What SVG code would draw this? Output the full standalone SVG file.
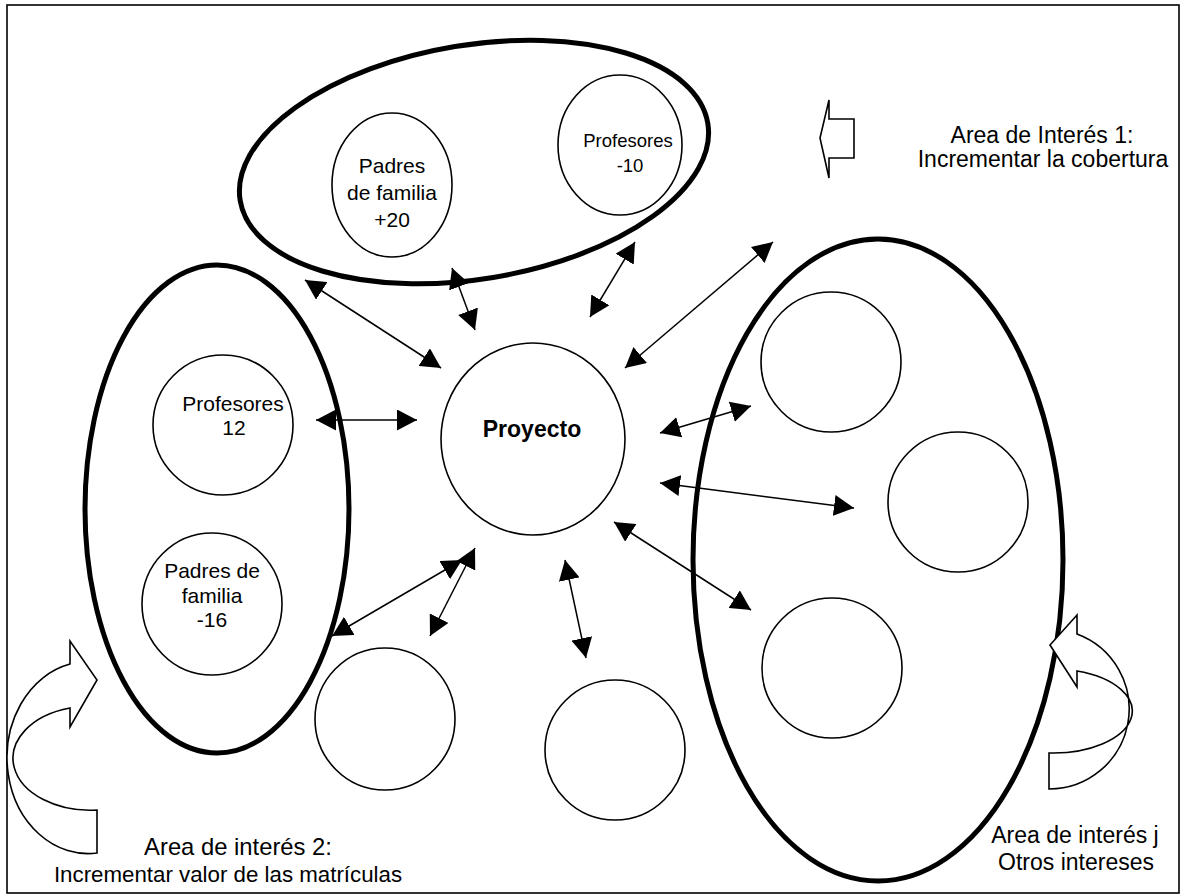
<svg xmlns="http://www.w3.org/2000/svg" width="1183" height="896" viewBox="0 0 1183 896">
<style>
  .area { fill: none; stroke: #000; stroke-width: 5; }
  .node { fill: #fff; stroke: #000; stroke-width: 1.6; }
  .conn { stroke: #000; stroke-width: 1.5; fill: none; marker-start: url(#head); marker-end: url(#head); }
  .block { fill: #fff; stroke: #000; stroke-width: 1.6; stroke-linejoin: miter; }
  text { font-family: "Liberation Sans", Arial, sans-serif; fill: #000; text-anchor: middle; }
  .t20 { font-size: 21px; }
  .t18 { font-size: 18.5px; }
  .lbl { font-size: 23px; }
  .bold { font-size: 23px; font-weight: bold; }
</style>
<defs>
  <marker id="head" viewBox="0 0 20 21" refX="20" refY="10.5" markerWidth="20" markerHeight="21" markerUnits="userSpaceOnUse" orient="auto-start-reverse">
    <path d="M0,0 L20,10.5 L0,21 Z" fill="#000"/>
  </marker>
</defs>
<rect x="0" y="0" width="1183" height="896" fill="#fff"/>
<rect id="border" x="7" y="5" width="1172" height="888" fill="none" stroke="#000" stroke-width="1.6"/>

<g id="area1">
  <ellipse class="area" cx="474" cy="162" rx="237" ry="117" transform="rotate(-9.4 474 162)"/>
</g>
<g id="area2">
  <ellipse class="area" cx="217" cy="509" rx="132" ry="244"/>
</g>
<g id="areaJ">
  <ellipse class="area" cx="878" cy="560" rx="185" ry="321"/>
</g>

<g id="padres20">
  <ellipse class="node" cx="392" cy="185" rx="60" ry="72"/>
  <text class="t20" x="392" y="173">Padres</text>
  <text class="t20" x="392" y="200">de familia</text>
  <text class="t20" x="392" y="227">+20</text>
</g>
<g id="profesores10">
  <ellipse class="node" cx="620" cy="145" rx="62" ry="70"/>
  <text class="t18" x="628" y="147">Profesores</text>
  <text class="t18" x="630" y="172">-10</text>
</g>
<g id="profesores12">
  <circle class="node" cx="223" cy="425" r="70"/>
  <text class="t20" x="233" y="411">Profesores</text>
  <text class="t20" x="234" y="435">12</text>
</g>
<g id="padres16">
  <ellipse class="node" cx="212" cy="604" rx="70" ry="71"/>
  <text class="t20" x="212" y="578">Padres de</text>
  <text class="t20" x="212" y="603">familia</text>
  <text class="t20" x="212" y="627">-16</text>
</g>
<g id="proyecto">
  <ellipse class="node" cx="533" cy="439" rx="92" ry="96"/>
  <text class="bold" x="532" y="437">Proyecto</text>
</g>
<g id="nodeR1"><circle class="node" cx="831" cy="362" r="70"/></g>
<g id="nodeR2"><circle class="node" cx="958" cy="502" r="70"/></g>
<g id="nodeR3"><circle class="node" cx="832" cy="668" r="70"/></g>
<g id="nodeB1"><ellipse class="node" cx="385" cy="719" rx="70" ry="71"/></g>
<g id="nodeB2"><circle class="node" cx="615" cy="750" r="70"/></g>

<g id="connectors">
  <line class="conn" x1="305" y1="280" x2="441" y2="368"/>
  <line class="conn" x1="452" y1="268" x2="475" y2="330"/>
  <line class="conn" x1="635" y1="242" x2="590" y2="317"/>
  <line class="conn" x1="773" y1="242" x2="625" y2="368"/>
  <line class="conn" x1="316" y1="420" x2="417" y2="420"/>
  <line class="conn" x1="660" y1="433" x2="751" y2="406"/>
  <line class="conn" x1="660" y1="483" x2="854" y2="508"/>
  <line class="conn" x1="614" y1="522" x2="751" y2="610"/>
  <line class="conn" x1="565" y1="560" x2="586" y2="658"/>
  <line class="conn" x1="332" y1="636" x2="462" y2="560"/>
  <line class="conn" x1="475" y1="548" x2="430" y2="636"/>
</g>

<g id="arrow1">
  <polygon class="block" points="820,138 829,100 829,119 854,119 854,158 829,158 829,178"/>
</g>
<g id="arrow2">
  <path class="block" d="M97,853 A81,96 0 0 1 70,664 L70,641 L97,680 L70,727 L70,708 A77,52 0 0 0 97,810 Z"/>
</g>
<g id="arrowJ">
  <path class="block" d="M1049,789 A80,80 0 0 0 1077,634 L1077,615 L1050,645 L1077,687 L1077,671 A79,42 0 0 1 1049,753 Z"/>
</g>

<g id="label1">
  <text class="lbl" x="1042" y="143">Area de Interés 1:</text>
  <text class="lbl" x="1043" y="167">Incrementar la cobertura</text>
</g>
<g id="label2">
  <text class="lbl" x="238" y="855" style="font-size:23.8px">Area de interés 2:</text>
  <text class="lbl" x="228" y="882" style="font-size:22.3px">Incrementar valor de las matrículas</text>
</g>
<g id="labelJ">
  <text class="lbl" x="1075" y="843">Area de interés j</text>
  <text class="lbl" x="1076" y="870">Otros intereses</text>
</g>
</svg>
